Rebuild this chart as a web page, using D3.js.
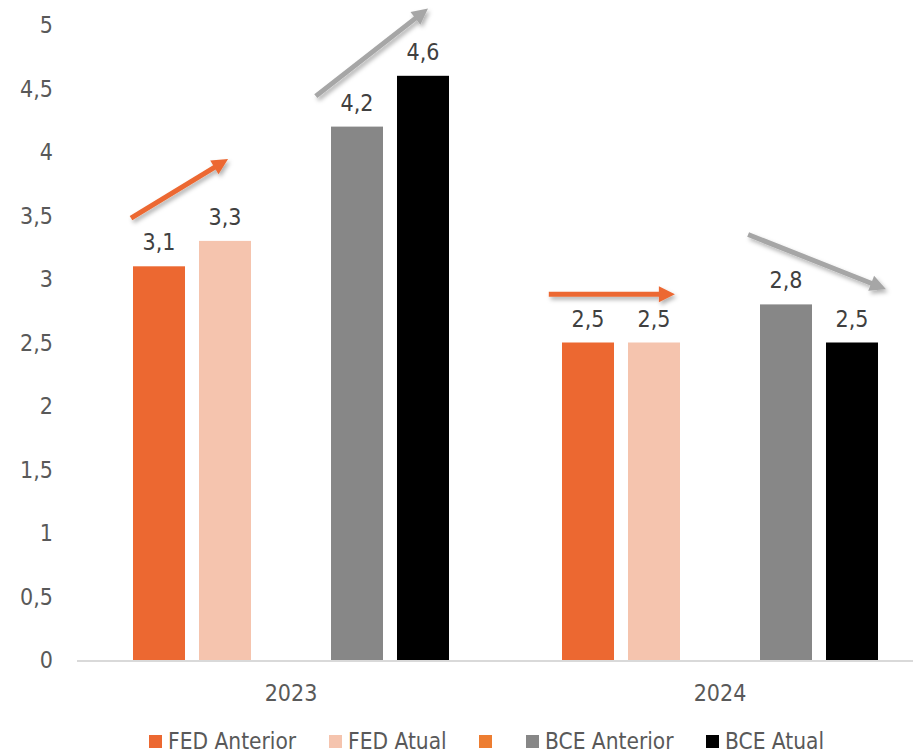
<!DOCTYPE html>
<html><head><meta charset="utf-8">
<script src="https://cdn.jsdelivr.net/npm/d3@7"></script>
<style>
html,body{margin:0;padding:0;background:#fff;}
svg text{font-family:"DejaVu Sans Condensed","DejaVu Sans",sans-serif;font-stretch:condensed;}
</style></head>
<body><svg id="c" width="913" height="756"></svg>
<script>
const categories = ["2023", "2024"];
const seriesNames = ["FED Anterior", "FED Atual", "", "BCE Anterior", "BCE Atual"];
const seriesColors = ["#EC6831", "#F5C4AE", "#ED7D31", "#878787", "#000000"];
const fedAnterior = [3.1, 2.5];
const fedAtual = [3.3, 2.5];
const blankSeries = [null, null];
const bceAnterior = [4.2, 2.8];
const bceAtual = [4.6, 2.5];
const yTicks = [0, 0.5, 1, 1.5, 2, 2.5, 3, 3.5, 4, 4.5, 5];
// trend arrows: category, slot offsets (bar-step units from first bar), values
const arrows = [
  {cat: "2023", s0: -0.03, v0: 3.48, s1: 1.44, v1: 3.945, color: "#EC6831"},
  {cat: "2023", s0: 2.77, v0: 4.44, s1: 4.47, v1: 5.13, color: "#A6A6A6"},
  {cat: "2024", s0: -0.2, v0: 2.88, s1: 1.71, v1: 2.88, color: "#EC6831"},
  {cat: "2024", s0: 2.82, v0: 3.35, s1: 4.91, v1: 2.92, color: "#A6A6A6"}
];

const allSeries = [fedAnterior, fedAtual, blankSeries, bceAnterior, bceAtual];
const fmt = v => String(v).replace(".", ",");

const svg = d3.select("#c");
const x0 = d3.scaleBand().domain(categories).range([76.5, 934.5]).padding(0);
const x1 = d3.scaleBand().domain(d3.range(seriesNames.length)).range([0, x0.bandwidth()])
  .paddingInner(0.212).paddingOuter(0.856);
const y = d3.scaleLinear().domain([0, 5]).range([660, 25]);

// y tick labels
svg.append("g").selectAll("text").data(yTicks).join("text")
  .attr("x", 53).attr("y", d => y(d)).attr("dy", "0.35em")
  .attr("text-anchor", "end").attr("fill", "#595959").attr("font-size", 23)
  .text(fmt);

// bars
const groups = svg.append("g").selectAll("g").data(categories).join("g")
  .attr("transform", d => `translate(${x0(d)},0)`);
groups.each(function(cat, ci) {
  const g = d3.select(this);
  allSeries.forEach((arr, si) => {
    const v = arr[ci];
    if (v == null) return;
    g.append("rect").attr("x", x1(si)).attr("width", x1.bandwidth())
      .attr("y", y(v)).attr("height", y(0) - y(v)).attr("fill", seriesColors[si]);
    g.append("text").attr("x", x1(si) + x1.bandwidth() / 2).attr("y", y(v) - 16)
      .attr("text-anchor", "middle").attr("fill", "#404040").attr("font-size", 23)
      .text(fmt(v));
  });
});

// axis line
svg.append("line").attr("x1", 77).attr("x2", 913).attr("y1", y(0) + 1).attr("y2", y(0) + 1)
  .attr("stroke", "#D9D9D9").attr("stroke-width", 2);

// category labels
svg.append("g").selectAll("text").data(categories).join("text")
  .attr("x", d => x0(d) + x0.bandwidth() / 2).attr("y", 701)
  .attr("text-anchor", "middle").attr("fill", "#595959").attr("font-size", 23)
  .text(d => d);

// shadow filter
const defs = svg.append("defs");
const f = defs.append("filter").attr("id", "sh").attr("x", "-20%").attr("y", "-50%")
  .attr("width", "140%").attr("height", "200%");
f.append("feDropShadow").attr("dx", 2).attr("dy", 3).attr("stdDeviation", 2)
  .attr("flood-color", "#000").attr("flood-opacity", 0.3);

// arrows
const slotX = (cat, s) => x0(cat) + x1(0) + s * x1.step();
arrows.forEach(a => {
  const xa = slotX(a.cat, a.s0), ya = y(a.v0), xb = slotX(a.cat, a.s1), yb = y(a.v1);
  const ang = Math.atan2(yb - ya, xb - xa);
  const L = 16, W = 8;
  const bx = xb - L * Math.cos(ang), by = yb - L * Math.sin(ang);
  const px = -Math.sin(ang), py = Math.cos(ang);
  const g = svg.append("g").attr("filter", "url(#sh)");
  g.append("line").attr("x1", xa).attr("y1", ya).attr("x2", bx + 2 * Math.cos(ang)).attr("y2", by + 2 * Math.sin(ang))
    .attr("stroke", a.color).attr("stroke-width", 5);
  g.append("path").attr("d", `M${xb},${yb}L${bx + W * px},${by + W * py}L${bx - W * px},${by - W * py}Z`)
    .attr("fill", a.color);
});

// legend
const legendX = [149, 329, 479, 526, 706];
const lg = svg.append("g").selectAll("g").data(seriesNames).join("g")
  .attr("transform", (d, i) => `translate(${legendX[i]},735)`);
lg.append("rect").attr("width", 13).attr("height", 13).attr("fill", (d, i) => seriesColors[i]);
lg.append("text").attr("x", 19).attr("y", 6.5).attr("dy", "0.35em")
  .attr("fill", "#595959").attr("font-size", 22.5).text(d => d);
</script></body></html>
